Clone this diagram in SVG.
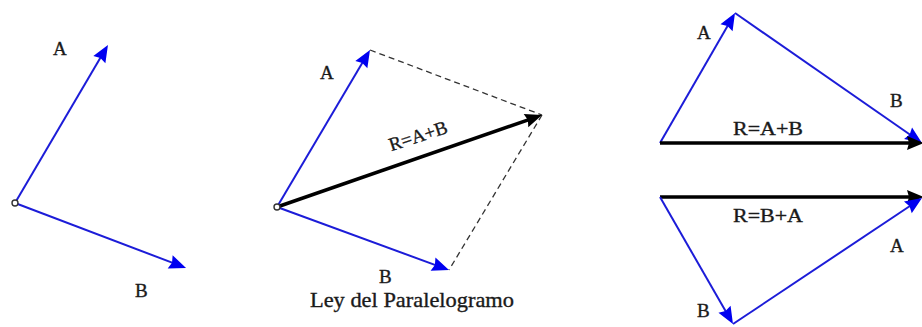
<svg xmlns="http://www.w3.org/2000/svg" width="922" height="327" viewBox="0 0 922 327">
  <defs>
    <marker id="hb" markerUnits="userSpaceOnUse" markerWidth="20" markerHeight="16" refX="7" refY="7" orient="auto" overflow="visible">
      <path d="M0,0 L17,7 L0,14 L2,7 Z" fill="#0000f0"/>
    </marker>
    <marker id="hk" markerUnits="userSpaceOnUse" markerWidth="20" markerHeight="16" refX="7" refY="7" orient="auto" overflow="visible">
      <path d="M0,0 L17,7 L0,14 L2,7 Z" fill="#000"/>
    </marker>
    <style>
      .vb { stroke: #1c1cd8; stroke-width: 2; fill: none; marker-end: url(#hb); }
      .vk { stroke: #000; stroke-width: 3.5; fill: none; marker-end: url(#hk); }
      .dash { stroke: #333; stroke-width: 1.3; stroke-dasharray: 6 4; fill: none; }
      .pt { fill: #fff; stroke: #333; stroke-width: 1.4; }
      text { font-family: "Liberation Serif", "Times New Roman", serif; fill: #1a1a1a; stroke: #1a1a1a; stroke-width: 0.35; }
      .lb { font-size: 19px; }
      .cap { font-size: 21px; }
    </style>
  </defs>
  <rect width="922" height="327" fill="#fff"/>

  <g id="connectors">
    <line class="vb" x1="15" y1="203" x2="102.9" y2="53.6"/>
    <line class="vb" x1="15" y1="203" x2="176.7" y2="264.4"/>
    <line class="dash" x1="370" y1="50" x2="542" y2="115"/>
    <line class="dash" x1="542" y1="115" x2="449" y2="270"/>
    <line class="vb" x1="277" y1="207" x2="364.9" y2="58.6"/>
    <line class="vb" x1="277" y1="207" x2="439.6" y2="266.6"/>
    <line class="vk" x1="277" y1="207" x2="532.6" y2="118.3"/>
    <line class="vb" x1="660" y1="143" x2="730" y2="21.7"/>
    <line class="vb" x1="735" y1="13" x2="913.8" y2="137.3"/>
    <line class="vk" x1="660" y1="143" x2="914" y2="143"/>
    <line class="vk" x1="660" y1="197" x2="914" y2="197"/>
    <line class="vb" x1="660" y1="197" x2="728" y2="315.3"/>
    <line class="vb" x1="733" y1="324" x2="913.7" y2="203.5"/>
  </g>

  <g id="vectors-left">
    <circle class="pt" cx="15" cy="203" r="3"/>
    <text class="lb" x="53" y="55">A</text>
    <text class="lb" x="135" y="297">B</text>
  </g>

  <g id="parallelogram">
    <circle class="pt" cx="277" cy="207" r="3"/>
    <text class="lb" x="320" y="79">A</text>
    <text class="lb" x="379" y="283">B</text>
    <text class="lb" x="420" y="142" text-anchor="middle" transform="rotate(-18 420 142)">R=A+B</text>
    <text class="cap" x="310" y="307" textLength="204" lengthAdjust="spacingAndGlyphs">Ley del Paralelogramo</text>
  </g>

  <g id="triangle-top">
    <text class="lb" x="697" y="39">A</text>
    <text class="lb" x="890" y="107">B</text>
    <text class="lb" x="733" y="135" textLength="70" lengthAdjust="spacingAndGlyphs">R=A+B</text>
  </g>

  <g id="triangle-bottom">
    <text class="lb" x="733" y="222" textLength="70" lengthAdjust="spacingAndGlyphs">R=B+A</text>
    <text class="lb" x="890" y="252">A</text>
    <text class="lb" x="697" y="317">B</text>
  </g>
</svg>
